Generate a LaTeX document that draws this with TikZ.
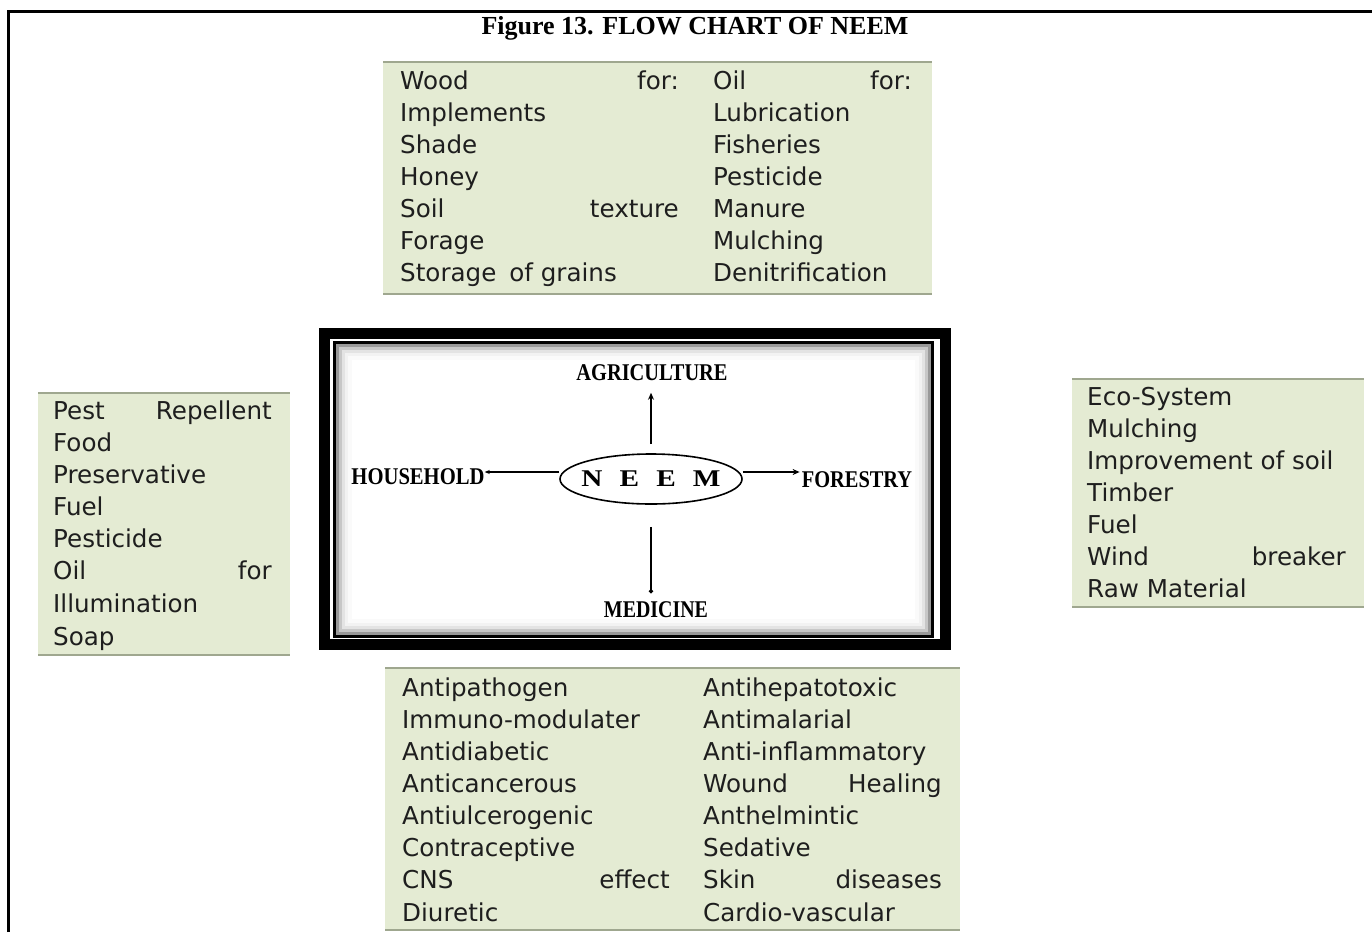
\documentclass[tikz,border=0pt]{standalone}
\usepackage{fontspec}
\setmainfont{Liberation Serif}
\newfontfamily\boxfont{DejaVu Sans}
\usetikzlibrary{arrows.meta,shapes.geometric}
\definecolor{boxgreen}{HTML}{E4EBD3}
\definecolor{boxline}{HTML}{9FA78F}
\definecolor{itemtext}{HTML}{1E1E1E}
\begin{document}
\begin{tikzpicture}[x=1pt,y=-1pt,
  item/.style={anchor=base west, inner sep=0pt, font=\boxfont\fontsize{24.6}{28}\selectfont, text=itemtext},
  itemr/.style={item, anchor=base east},
  cat/.style={inner sep=0pt, font=\bfseries\fontsize{24}{26}\selectfont},
  panel/.style={fill=boxgreen},
  rule/.style={draw=boxline, line width=2.5pt},
  link/.style={line width=1.3pt},
  head/.style={-{Stealth[length=7pt,width=6pt]}},
  dot/.style={-{Circle[length=4pt,width=4pt]}}]
\useasboundingbox (0,0) rectangle (1372,932);
\fill[white] (0,0) rectangle (1372,932);
% page frame
\draw[line width=3pt] (8,932) -- (8,11.5) -- (1372,11.5);
% title
\node[inner sep=0pt, font=\bfseries\fontsize{26}{28}\selectfont] (title) at (695,28) {Figure 13. FLOW CHART OF NEEM};

% ---------- top panel ----------
\fill[panel] (383,62) rectangle (932,294);
\draw[rule] (383,62) -- (932,62);
\draw[rule] (383,294) -- (932,294);
\node[item] (w1) at (400,89) {Wood};
\node[itemr] (w1b) at (679,89) {for:};
\node[item] (o1) at (713,89) {Oil};
\node[itemr] (o1b) at (912,89) {for:};
\node[item] (w2) at (400,121) {Implements};
\node[item] (w3) at (400,153) {Shade};
\node[item] (w4) at (400,185) {Honey};
\node[item] (w5) at (400,217) {Soil};
\node[itemr] (w5b) at (679,217) {texture};
\node[item] (w6) at (400,249) {Forage};
\node[item] (w7) at (400,281) {Storage\hspace{5pt} of grains};
\node[item] (o2) at (713,121) {Lubrication};
\node[item] (o3) at (713,153) {Fisheries};
\node[item] (o4) at (713,185) {Pesticide};
\node[item] (o5) at (713,217) {Manure};
\node[item] (o6) at (713,249) {Mulching};
\node[item] (o7) at (713,281) {Denitrification};

% ---------- left panel ----------
\fill[panel] (38,393) rectangle (290,655);
\draw[rule] (38,393) -- (290,393);
\draw[rule] (38,655) -- (290,655);
\node[item] (h1) at (53,419) {Pest};
\node[itemr] (h1b) at (272,419) {Repellent};
\node[item] (h2) at (53,451) {Food};
\node[item] (h3) at (53,483) {Preservative};
\node[item] (h4) at (53,515) {Fuel};
\node[item] (h5) at (53,547) {Pesticide};
\node[item] (h6) at (53,579) {Oil};
\node[itemr] (h6b) at (272,579) {for};
\node[item] (h7) at (53,612) {Illumination};
\node[item] (h8) at (53,645) {Soap};

% ---------- right panel ----------
\fill[panel] (1072,379) rectangle (1364,607);
\draw[rule] (1072,379) -- (1364,379);
\draw[rule] (1072,607) -- (1364,607);
\node[item] (f1) at (1087,405) {Eco-System};
\node[item] (f2) at (1087,437) {Mulching};
\node[item] (f3) at (1087,469) {Improvement of soil};
\node[item] (f4) at (1087,501) {Timber};
\node[item] (f5) at (1087,533) {Fuel};
\node[item] (f6) at (1087,565) {Wind};
\node[itemr] (f6b) at (1346,565) {breaker};
\node[item] (f7) at (1087,597) {Raw Material};

% ---------- bottom panel ----------
\fill[panel] (385,668) rectangle (960,930);
\draw[rule] (385,668) -- (960,668);
\draw[rule] (385,930) -- (960,930);
\node[item] (m1) at (402,696) {Antipathogen};
\node[item] (m2) at (402,728) {Immuno-modulater};
\node[item] (m3) at (402,760) {Antidiabetic};
\node[item] (m4) at (402,792) {Anticancerous};
\node[item] (m5) at (402,824) {Antiulcerogenic};
\node[item] (m6) at (402,856) {Contraceptive};
\node[item] (m7) at (402,888) {CNS};
\node[itemr] (m7b) at (670,888) {effect};
\node[item] (m8) at (402,921) {Diuretic};
\node[item] (n1) at (703,696) {Antihepatotoxic};
\node[item] (n2) at (703,728) {Antimalarial};
\node[item] (n3) at (703,760) {Anti-inflammatory};
\node[item] (n4) at (703,792) {Wound};
\node[itemr] (n4b) at (942,792) {Healing};
\node[item] (n5) at (703,824) {Anthelmintic};
\node[item] (n6) at (703,856) {Sedative};
\node[item] (n7) at (703,888) {Skin};
\node[itemr] (n7b) at (942,888) {diseases};
\node[item] (n8) at (703,921) {Cardio-vascular};

% ---------- central framed diagram ----------
\draw[line width=11pt] (324.5,333.5) rectangle (945,644.5);
\draw[line width=3.5pt] (335,343) rectangle (932,636);
\foreach \d/\c in {3/40,6/22,9/11,12/5,15/2}
  \draw[black!\c, line width=3.2pt] (335+\d,343+\d) rectangle (932-\d,636-\d);

\node[ellipse, draw, line width=1.6pt, minimum width=182pt, minimum height=50pt, inner sep=0pt,
      font=\bfseries\fontsize{24}{26}\selectfont] (neem) at (651,479) {\makebox[0pt]{\scalebox{1.22}[1]{N\hspace{14pt}E\hspace{14pt}E\hspace{14pt}M}}};
\node[cat] (agri) at (652,372.5) {\scalebox{0.85}[1]{AGRICULTURE}};
\node[cat] (house) at (418,477) {\scalebox{0.86}[1]{HOUSEHOLD}};
\node[cat] (forest) at (857,480) {\scalebox{0.85}[1]{FORESTRY}};
\node[cat] (med) at (656,609.5) {\scalebox{0.83}[1]{MEDICINE}};

\draw[link, head, shorten <=9pt, shorten >=12pt] (neem.north) -- (neem.north |- agri.south);
\draw[link, -{Stealth[length=5pt,width=4pt]}] ([yshift=7pt]neem.west) -- ([yshift=7pt]neem.west -| house.east);
\draw[link, head] ([yshift=7pt]neem.east) -- ([yshift=7pt,xshift=-2pt]neem.east -| forest.west);
\draw[link, dot, shorten <=22pt, shorten >=8pt] (neem.south) -- (neem.south |- med.north);
\end{tikzpicture}
\end{document}
